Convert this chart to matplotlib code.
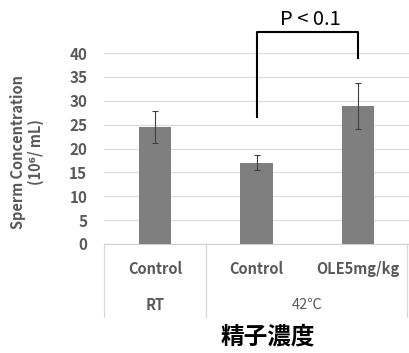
import matplotlib.pyplot as plt
import matplotlib.transforms as mtransforms

plt.rcParams['font.family'] = ['Noto Sans CJK JP', 'DejaVu Sans']

# data
categories = ['Control', 'Control', 'OLE5mg/kg']
groups = ['RT', '42\u2103']
group_centers = [0, 1.5]
means = [24.5, 17.0, 28.9]
errors = [3.3, 1.6, 4.8]
yticks = [0, 5, 10, 15, 20, 25, 30, 35, 40]

gray_text = '#595959'

fig = plt.figure(figsize=(4.09, 3.53), dpi=100)
ax = fig.add_axes([104 / 409, 1 - 244 / 353, 1 - 104 / 409, 191 / 353])

x = range(len(categories))
ax.bar(x, means, width=0.32, color='#7f7f7f', zorder=3)
ax.errorbar(x, means, yerr=errors, fmt='none', ecolor='#404040',
            elinewidth=0.8, capsize=2.5, capthick=0.8, zorder=4)

ax.set_xlim(-0.5, 2.5)
ax.set_ylim(0, 40)
ax.set_yticks(yticks)
ax.set_yticklabels([str(t) for t in yticks], fontsize=11, fontweight='bold',
                   color=gray_text)
ax.tick_params(axis='y', length=0, pad=12)
ax.set_xticks([])
ax.grid(axis='y', color='#dcdcdc', linewidth=0.9, zorder=0)
for s in ['left', 'right', 'top']:
    ax.spines[s].set_visible(False)
ax.spines['bottom'].set_color('#d0d0d0')

# category and group labels under the axis
trans = mtransforms.blended_transform_factory(ax.transData, ax.transAxes)
for i, c in enumerate(categories):
    ax.text(i, -0.13, c, transform=trans, ha='center', va='center',
            fontsize=10.5, fontweight='bold', color=gray_text)
for g, gx in zip(groups, group_centers):
    ax.text(gx, -0.32, g, transform=trans, ha='center', va='center',
            fontsize=10.5, fontweight='bold' if g == 'RT' else 'normal', color=gray_text)
for sx in [-0.5, 0.5, 2.48]:
    ax.plot([sx, sx], [0, -0.38], transform=trans, color='#d8d8d8',
            linewidth=0.9, clip_on=False)

# significance bracket
ax.plot([1, 1, 2, 2], [26.6, 44.4, 44.4, 38.9], color='black', linewidth=1.5,
        clip_on=False)
ax.text(1.53, 47.0, 'P < 0.1', ha='center', va='center', fontsize=14.5, color='black')

# y label
fig.text(0.066, 0.57, 'Sperm Concentration\n(10\u2076/ mL)', rotation=90,
         ha='center', va='center', fontsize=10.5, fontweight='bold', color=gray_text,
         linespacing=1.15)

fig.text(268 / 409, 1 - 336 / 353, '精子濃度', ha='center', va='center',
         fontsize=17, fontweight='bold', color='black')

fig.savefig('out.png', dpi=100)
